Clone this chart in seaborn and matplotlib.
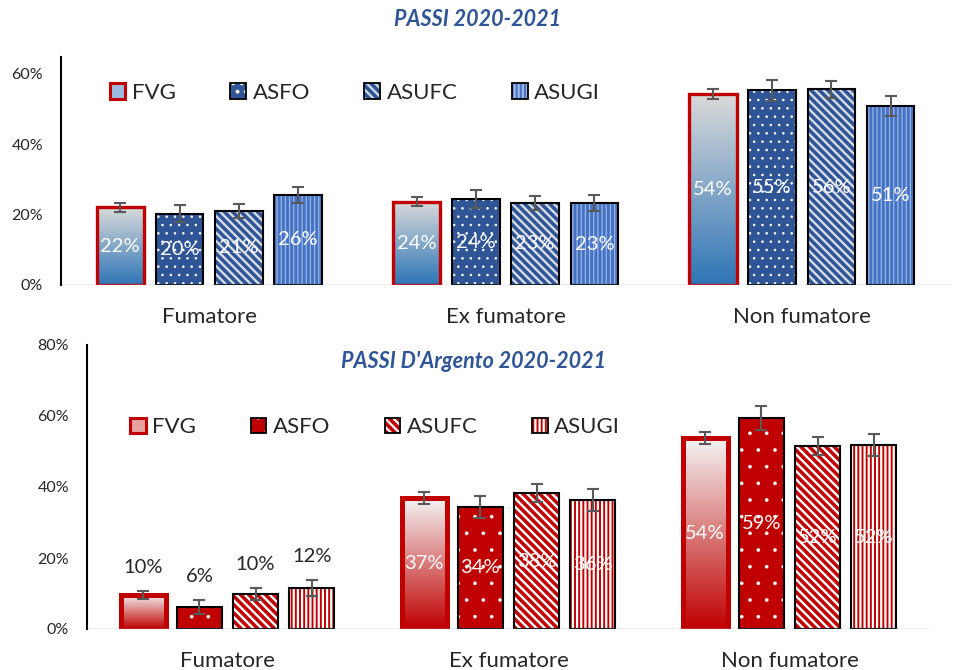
import numpy as np
import pandas as pd
import matplotlib.pyplot as plt
import matplotlib.colors as mcolors
from matplotlib.patches import Rectangle, Patch
import seaborn as sns

sns.set_style('white')
plt.rcParams['font.family'] = ['Lato', 'DejaVu Sans']
plt.rcParams['hatch.linewidth'] = 1.6

categorie = ['Fumatore', 'Ex fumatore', 'Non fumatore']
aree = ['FVG', 'ASFO', 'ASUFC', 'ASUGI']

# PASSI 2020-2021 (%) - ordine: Fumatore, Ex fumatore, Non fumatore
passi_fvg = [22.1, 23.6, 54.2]
passi_asfo = [20.2, 24.4, 55.3]
passi_asufc = [21.0, 23.3, 55.6]
passi_asugi = [25.6, 23.2, 50.8]
# semi-ampiezza intervalli di confidenza
passi_err_fvg = [1.3, 1.3, 1.5]
passi_err_asfo = [2.4, 2.6, 3.0]
passi_err_asufc = [2.0, 2.0, 2.4]
passi_err_asugi = [2.3, 2.3, 2.9]

# PASSI D'Argento 2020-2021 (%)
argento_fvg = [9.6, 36.9, 53.8]
argento_asfo = [6.2, 34.4, 59.4]
argento_asufc = [9.9, 38.3, 51.6]
argento_asugi = [11.6, 36.3, 51.8]
argento_err_fvg = [1.1, 1.6, 1.8]
argento_err_asfo = [2.0, 3.2, 3.4]
argento_err_asufc = [1.7, 2.5, 2.6]
argento_err_asugi = [2.2, 3.1, 3.1]

blu = {
    'FVG': dict(grad=('#2e75b6', '#dadada'), legend='#9bbbe0'),
    'ASFO': dict(face='#2f5597', hatch='..', hcolor='white', hlw=0.6),
    'ASUFC': dict(face='#2f5597', hatch='\\\\\\\\', hcolor='#d6dce5', hlw=1.7),
    'ASUGI': dict(face='#4472c4', hatch='||||', hcolor='#9db5e3', hlw=0.9),
}
rosso = {
    'FVG': dict(grad=('#c00000', '#f4f4f4'), legend='#e6a0a0'),
    'ASFO': dict(face='#c00000', hatch='.', hcolor='white', hlw=0.2),
    'ASUFC': dict(face='#c00000', hatch='\\\\\\\\', hcolor='white', hlw=1.7),
    'ASUGI': dict(face='#c00000', hatch='||||', hcolor='white', hlw=1.6),
}


def tratteggio(p, st):
    p.set_facecolor(st['face'])
    p.set_edgecolor(st['hcolor'])
    p.set_hatch(st['hatch'])
    if hasattr(p, 'set_hatch_linewidth'):
        p.set_hatch_linewidth(st['hlw'])
    p.set_linewidth(0)


def pannello(ax, serie, errori, stili, ylim, yticks, fvg_lw, leg_xy):
    df = pd.DataFrame({
        'categoria': categorie * len(aree),
        'area': np.repeat(aree, len(categorie)),
        'valore': np.concatenate(serie),
        'errore': np.concatenate(errori),
    })
    sns.barplot(data=df, x='categoria', y='valore', hue='area', order=categorie,
                hue_order=aree, errorbar=None, width=0.8, gap=0.2,
                palette=['#cccccc'] * 4, legend=False, ax=ax)
    contenitori = list(ax.containers)
    grad_img = np.linspace(0, 1, 256).reshape(-1, 1)

    for cont, area in zip(contenitori, aree):
        st = stili[area]
        sub = df[df['area'] == area]
        for p, v, e in zip(cont, sub['valore'], sub['errore']):
            x0, w, h = p.get_x(), p.get_width(), p.get_height()
            if area == 'FVG':
                cmap = mcolors.LinearSegmentedColormap.from_list('g', list(st['grad']))
                im = ax.imshow(grad_img, extent=[x0, x0 + w, 0, h], origin='lower',
                               aspect='auto', cmap=cmap, zorder=1)
                im.set_clip_path(p)
                p.set_facecolor('none')
                p.set_edgecolor('#c00000')
                p.set_linewidth(fvg_lw)
                p.set_zorder(2)
            else:
                tratteggio(p, st)
                ax.add_patch(Rectangle((x0, 0), w, h, fill=False, edgecolor='black',
                                       linewidth=1.5, zorder=2))
            xc = x0 + w / 2
            ax.errorbar(xc, v, yerr=e, fmt='none', ecolor='#595959', elinewidth=1.5,
                        capsize=4.5, capthick=1.5, zorder=4)
            if v < 15:
                ax.annotate(f'{round(v)}%', (xc, v + e), xytext=(0, 11),
                            textcoords='offset points', ha='center', va='bottom',
                            fontsize=14.5, color='#262626')
            else:
                ax.text(xc, v / 2, f'{round(v)}%', ha='center', va='center',
                        fontsize=14.5, color='white', zorder=5)

    handles = []
    for area in aree:
        st = stili[area]
        if area == 'FVG':
            handles.append(Patch(facecolor=st['legend'], edgecolor='#c00000', linewidth=2.2))
        else:
            hp = Patch()
            tratteggio(hp, st)
            handles.append((hp, Patch(facecolor='none', edgecolor='black', linewidth=1.3)))
    ax.legend(handles, aree, ncol=4, frameon=False, loc='center left',
              bbox_to_anchor=leg_xy, borderpad=0, borderaxespad=0, fontsize=16,
              handlelength=0.7, handleheight=0.7, handletextpad=0.3,
              columnspacing=2.45)

    ax.axhline(0, color='#8fb0e0', linewidth=1, zorder=3)
    ax.set_xlim(-0.5, 2.5)
    ax.set_ylim(*ylim)
    ax.set_yticks(yticks)
    ax.set_yticklabels([f'{t}%' for t in yticks])
    ax.set_xlabel('')
    ax.set_ylabel('')
    for s in ['top', 'right', 'bottom']:
        ax.spines[s].set_visible(False)
    ax.spines['left'].set_color('black')
    ax.spines['left'].set_linewidth(1.5)
    ax.tick_params(axis='y', length=0, pad=13, labelsize=11.5, labelcolor='#262626')
    ax.tick_params(axis='x', length=0, pad=16, labelsize=16, labelcolor='#262626')


fig = plt.figure(figsize=(9.58, 6.70), dpi=100)
ax1 = fig.add_axes([61 / 958, 1 - 285 / 670, 889 / 958, 228 / 670])
ax2 = fig.add_axes([87 / 958, 1 - 629 / 670, 843 / 958, 284 / 670])

pannello(ax1, [passi_fvg, passi_asfo, passi_asufc, passi_asugi],
         [passi_err_fvg, passi_err_asfo, passi_err_asufc, passi_err_asugi],
         blu, (0, 64.7), [0, 20, 40, 60], 2.4, (0.055, 0.842))
pannello(ax2, [argento_fvg, argento_asfo, argento_asufc, argento_asugi],
         [argento_err_fvg, argento_err_asfo, argento_err_asufc, argento_err_asugi],
         rosso, (0, 80), [0, 20, 40, 60, 80], 3.6, (0.051, 0.711))

fig.text(478 / 958, 1 - 20 / 670, 'PASSI 2020-2021', ha='center', va='center',
         fontsize=15.5, fontweight='bold', style='italic', color='#2f5597')
fig.text(474 / 958, 1 - 362 / 670, "PASSI D'Argento 2020-2021", ha='center', va='center',
         fontsize=15.5, fontweight='bold', style='italic', color='#2f5597')

fig.savefig('out.png', dpi=100)
